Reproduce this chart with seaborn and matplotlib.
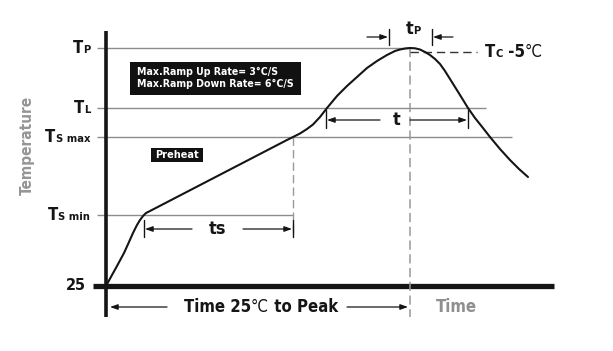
import matplotlib
matplotlib.use("Agg")
import matplotlib.pyplot as plt
import numpy as np
import pandas as pd
import seaborn as sns
from matplotlib.offsetbox import TextArea, HPacker, AnnotationBbox
from matplotlib.patches import Rectangle

# ---------------- data (schematic reflow profile) ----------------
profile_time = [0, 6, 11, 18, 23, 27, 31, 34, 37, 40, 44, 180, 187, 194, 201, 207,
                214, 221, 231, 241, 251, 261, 271, 281, 289, 294, 299, 304, 309,
                314, 319, 324, 329, 334, 339, 344, 349, 354, 362, 369, 377, 384,
                394, 404, 413, 422]
profile_temp = [25, 36, 45, 58, 69, 78, 86, 91, 95, 98, 100, 170.5, 174, 177.5, 182,
                186.5, 194, 203, 215, 225, 234, 243, 250, 256, 260, 261.5, 262.5, 263,
                262.7, 261.5, 259, 256, 252, 247, 240, 232, 224, 216, 203, 193, 183,
                174, 162, 151, 142, 134]

level_names = ["TP", "TL", "Ts max", "Ts min", "25"]
level_temps = [263, 203, 174, 96, 25]
level_line_end = [304, 380, 406, 187, None]     # time where each guide line stops

t_smin, t_smax = 38, 187        # preheat window (ts)
t_L_up, t_L_down = 220, 362     # time above liquidus (t)
t_peak = 304
tp_window = [283, 326]          # tP window
tc_temp = 259                   # Tc -5°C level
tc_end = 371

ramp_text = ["Max.Ramp Up Rate= 3°C/S", "Max.Ramp Down Rate= 6°C/S"]

# ---------------- figure ----------------
sns.set_style("white")
plt.rcParams["font.family"] = ["DejaVu Sans"]

FAM = ["DejaVu Sans"]
STRETCH = "condensed"

fig = plt.figure(figsize=(6.13, 3.51), dpi=100)
ax = fig.add_axes([0, 0, 1, 1])

BLACK = "#151515"
GRAY = "#8c8c8c"

# guide lines
for name, temp, end in zip(level_names, level_temps, level_line_end):
    if end is not None:
        ax.plot([-9, end], [temp, temp], color=GRAY, lw=1.0, solid_capstyle="butt")

# axes
ax.plot([-13, 448], [25, 25], color=BLACK, lw=3.8, solid_capstyle="butt")
ax.plot([0, 0], [280, -6], color=BLACK, lw=2.6, solid_capstyle="butt")

# dashed verticals
ax.plot([t_peak, t_peak], [263, -6], color="#999999", lw=1.1, ls=(0, (6, 3)))
ax.plot([t_smax, t_smax], [174, 74], color="#999999", lw=1.0, ls=(0, (6, 3)))
# Tc -5 dashed
ax.plot([t_peak, tc_end], [tc_temp, tc_temp], color="#333333", lw=1.0, ls=(0, (6, 3.5)))

# profile curve
df = pd.DataFrame({"time": profile_time, "temp": profile_temp})
sns.lineplot(data=df, x="time", y="temp", sort=False, estimator=None,
             color=BLACK, lw=1.5, ax=ax)
ax.set_xlim(-106, 507)
ax.set_ylim(-40, 311)
ax.axis("off")


def packed(parts, xy, align=(1, 0.5)):
    areas = []
    for txt, size, weight, color in parts:
        areas.append(TextArea(txt, textprops=dict(fontsize=size, fontweight=weight,
                                                  color=color, family=FAM,
                                                  fontstretch=STRETCH)))
    pack = HPacker(children=areas, align="baseline", pad=0, sep=0)
    ab = AnnotationBbox(pack, xy, xycoords="data", box_alignment=align,
                        frameon=False, pad=0)
    ax.add_artist(ab)


# level labels
small_parts = {"TP": "P", "TL": "L", "Ts max": "S max", "Ts min": "S min"}
for name, temp in zip(level_names, level_temps):
    if name == "25":
        packed([("25", 11.5, "bold", BLACK)], (-20, temp))
    else:
        packed([("T", 12, "bold", BLACK), (small_parts[name], 8, "bold", BLACK)],
               (-16, temp))

# y label
ax.text(-79, 166, "Temperature", rotation=90, ha="center", va="center",
        color="#959595", fontsize=11, fontweight="bold", family=FAM,
        fontstretch=STRETCH)

arrow_kw = dict(arrowstyle="-|>,head_length=0.45,head_width=0.16",
                color=BLACK, lw=0.9, shrinkA=0, shrinkB=0)

# ts arrows
y_ts = 82
ax.plot([t_smin, t_smin], [91, 74], color=BLACK, lw=1.0)
ax.plot([t_smax, t_smax], [91, 74], color=BLACK, lw=1.0)
ax.annotate("", xy=(t_smin + 1, y_ts), xytext=(86, y_ts), arrowprops=arrow_kw)
ax.annotate("", xy=(t_smax - 1, y_ts), xytext=(137, y_ts), arrowprops=arrow_kw)
ax.text((t_smin + t_smax) / 2 - 1, y_ts, "ts", ha="center", va="center",
        fontsize=13, fontweight="bold", color=BLACK, family=FAM, fontstretch=STRETCH)

# t arrows
y_t = 191
ax.plot([t_L_up, t_L_up], [201, 183], color=BLACK, lw=1.0)
ax.plot([t_L_down, t_L_down], [201, 183], color=BLACK, lw=1.0)
ax.annotate("", xy=(t_L_up + 1, y_t), xytext=(274, y_t), arrowprops=arrow_kw)
ax.annotate("", xy=(t_L_down - 1, y_t), xytext=(304, y_t), arrowprops=arrow_kw)
ax.text(291, y_t, "t", ha="center", va="center",
        fontsize=13, fontweight="bold", color=BLACK, family=FAM, fontstretch=STRETCH)

# tP arrows
y_tp = 274
ax.plot([tp_window[0], tp_window[0]], [282, 266], color=BLACK, lw=1.0)
ax.plot([tp_window[1], tp_window[1]], [282, 266], color=BLACK, lw=1.0)
ax.annotate("", xy=(tp_window[0] - 1, y_tp), xytext=(261, y_tp), arrowprops=arrow_kw)
ax.annotate("", xy=(tp_window[1] + 1, y_tp), xytext=(347, y_tp), arrowprops=arrow_kw)
packed([("t", 13, "bold", BLACK), ("P", 8, "bold", BLACK)], (307, 282), align=(0.5, 0.5))

# Tc -5°C
packed([("T", 12, "bold", BLACK), ("C", 8, "bold", BLACK), (" -5", 12, "bold", BLACK),
        ("°C", 12, "normal", BLACK)], (379, tc_temp), align=(0, 0.5))

# ramp rate box
ax.add_patch(Rectangle((24, 216), 171, 33, facecolor="#111111", edgecolor="none"))
ax.text(31, 239, ramp_text[0], ha="left", va="center", color="white",
        fontsize=7.6, fontweight="bold", family=FAM, fontstretch=STRETCH)
ax.text(31, 227, ramp_text[1], ha="left", va="center", color="white",
        fontsize=7.6, fontweight="bold", family=FAM, fontstretch=STRETCH)

# preheat box
ax.add_patch(Rectangle((45, 149), 52, 14, facecolor="#111111", edgecolor="none"))
ax.text(71, 156, "Preheat", ha="center", va="center", color="white",
        fontsize=7.8, fontweight="bold", family=FAM, fontstretch=STRETCH)

# bottom annotation
y_b = 4
ax.annotate("", xy=(4, y_b), xytext=(61, y_b), arrowprops=arrow_kw)
ax.annotate("", xy=(t_peak - 2, y_b), xytext=(241, y_b), arrowprops=arrow_kw)
packed([("Time 25", 12, "bold", BLACK), ("°C", 12, "normal", BLACK),
        (" to Peak", 12, "bold", BLACK)], (155, y_b), align=(0.5, 0.5))
ax.text(350, y_b, "Time", ha="center", va="center", color="#8f8f8f",
        fontsize=12, fontweight="bold", family=FAM, fontstretch=STRETCH)

fig.savefig("out.png", dpi=100, facecolor="white")
